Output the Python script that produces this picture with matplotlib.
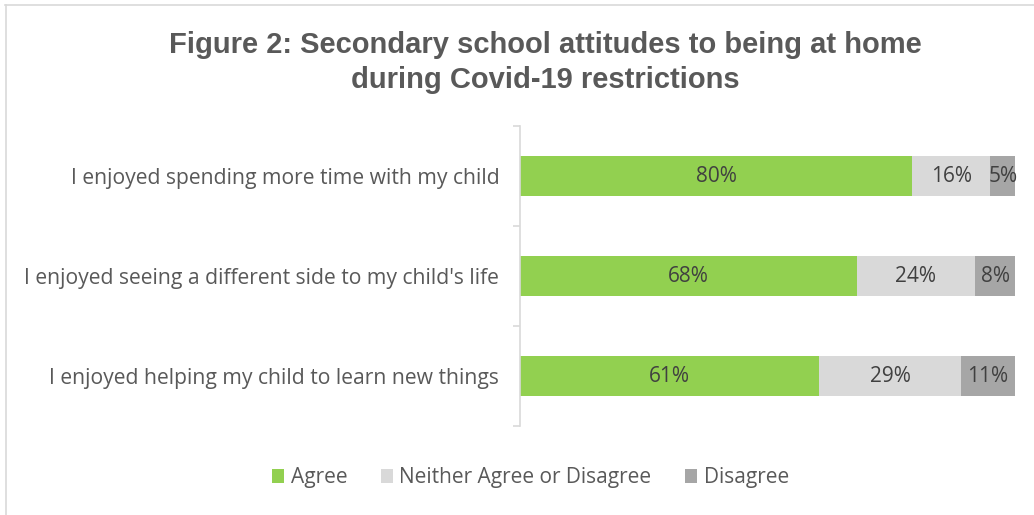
import matplotlib.pyplot as plt
import numpy as np

categories = ["I enjoyed helping my child to learn new things",
              "I enjoyed seeing a different side to my child's life",
              "I enjoyed spending more time with my child"]
agree = np.array([61, 68, 80])
neither = np.array([29, 24, 16])
disagree = np.array([11, 8, 5])
series = [("Agree", agree, "#92D050"),
          ("Neither Agree or Disagree", neither, "#D9D9D9"),
          ("Disagree", disagree, "#A6A6A6")]

plt.rcParams['font.family'] = ['Open Sans', 'DejaVu Sans']

fig = plt.figure(figsize=(10.34, 5.15), dpi=100)
ax = fig.add_axes([0.503, 0.1728, 0.4786, 0.5825])

total = agree + neither + disagree
y = np.arange(len(categories))
left = np.zeros(len(categories))
for name, vals, col in series:
    w = vals / total
    ax.barh(y, w, left=left, height=0.4, color=col, label=name)
    for yi, l, wi, v in zip(y, left, w, vals):
        ax.text(l + wi / 2, yi, f"{v}%", ha='center', va='center',
                fontsize=15, color='#404040')
    left += w

ax.set_xlim(0, 1)
ax.set_ylim(-0.5, 2.5)
ax.set_yticks(y)
ax.set_yticklabels(categories, fontsize=15.2, color='#595959')
ax.set_yticks([-0.5, 0.5, 1.5, 2.5], minor=True)
ax.tick_params(axis='y', which='major', length=0, pad=15)
ax.tick_params(axis='y', which='minor', length=5, color='#D9D9D9', width=1.2)
ax.set_xticks([])
for s in ['top', 'right', 'bottom']:
    ax.spines[s].set_visible(False)
ax.spines['left'].set_color('#D9D9D9')
ax.spines['left'].set_linewidth(1.2)

fig.suptitle("Figure 2: Secondary school attitudes to being at home\nduring Covid-19 restrictions",
             x=0.527, y=0.94, fontsize=21, fontweight='bold', color='#595959',
             family=['Liberation Sans', 'DejaVu Sans'], linespacing=1.3)

fig.legend(loc='center', bbox_to_anchor=(0.513, 0.072), ncol=3, frameon=False,
           fontsize=15, labelcolor='#595959', handlelength=0.6, handleheight=0.6,
           handletextpad=0.3, columnspacing=1.6)

# chart border (top and left visible)
fig.add_artist(plt.Line2D([0.005, 1], [0.99, 0.99], color='#D9D9D9', lw=1.2))
fig.add_artist(plt.Line2D([0.006, 0.006], [0, 0.99], color='#D9D9D9', lw=1.2))

plt.savefig('out.png', dpi=100)
